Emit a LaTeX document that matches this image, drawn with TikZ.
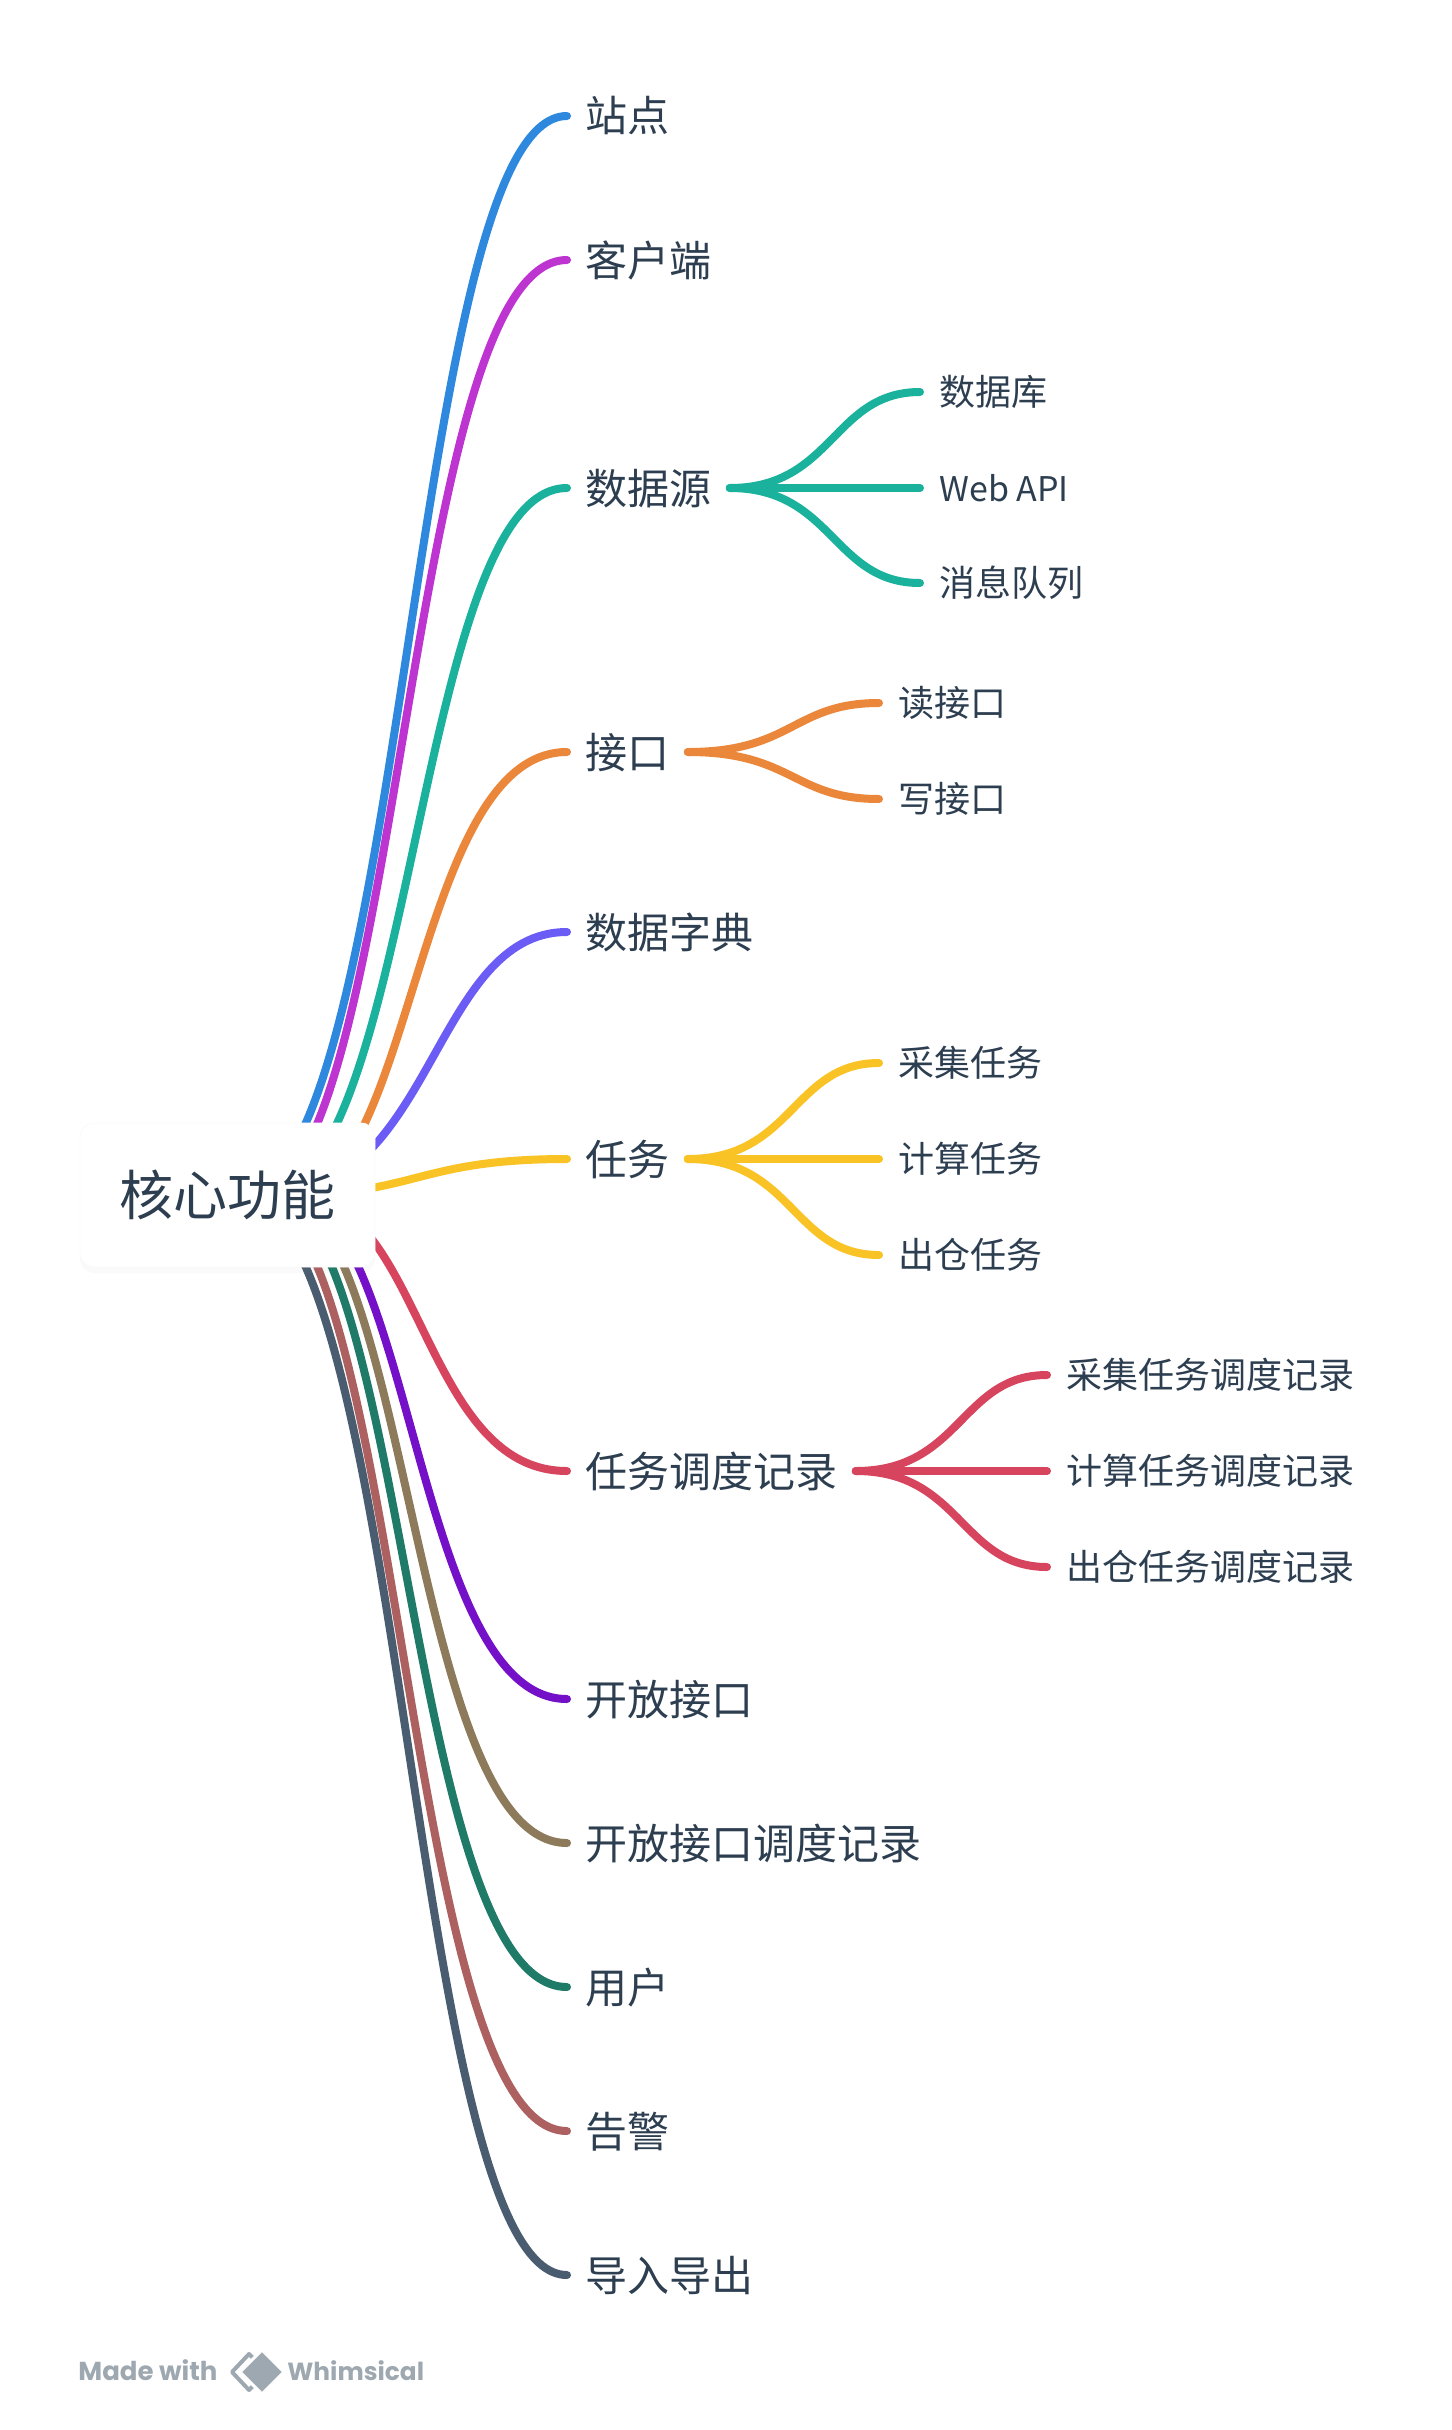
\documentclass[tikz,border=0pt]{standalone}
\usepackage{fontspec}
\setmainfont{Noto Sans CJK SC}
\newfontfamily\markfont{Poppins}
\usepackage{xcolor}
\usetikzlibrary{positioning,calc,backgrounds,shadows}
\definecolor{inkcolor}{HTML}{2C3E50}
\definecolor{markcolor}{HTML}{9EA8B1}
\definecolor{stationcolor}{HTML}{2E89DE}
\definecolor{clientcolor}{HTML}{BD34D1}
\definecolor{sourcecolor}{HTML}{1AB19D}
\definecolor{interfacecolor}{HTML}{EA873B}
\definecolor{dictionarycolor}{HTML}{6C5CF6}
\definecolor{taskcolor}{HTML}{F9C326}
\definecolor{schedulecolor}{HTML}{D6455D}
\definecolor{openapicolor}{HTML}{7510C9}
\definecolor{openlogcolor}{HTML}{8C7A5B}
\definecolor{usercolor}{HTML}{1F7A68}
\definecolor{alertcolor}{HTML}{AD6060}
\definecolor{transfercolor}{HTML}{4A5D70}
\tikzset{
  rootbox/.style={rectangle, rounded corners=7pt, fill=white, draw=black!2, minimum width=147.5pt, minimum height=72pt, inner sep=0pt, text=inkcolor, font=\fontsize{27pt}{31pt}\selectfont, text height=23.8pt, text depth=3.2pt, drop shadow={opacity=0.04, shadow xshift=0pt, shadow yshift=-3pt}},
  topic/.style={anchor=west, inner xsep=9pt, inner ysep=0pt, text=inkcolor, font=\fontsize{21pt}{25pt}\selectfont, text height=18.5pt, text depth=2.5pt},
  leaf/.style={anchor=west, inner xsep=9.5pt, inner ysep=0pt, text=inkcolor, font=\fontsize{18pt}{22pt}\selectfont, text height=15.8pt, text depth=2.2pt},
  spoke/.style={line width=4pt, line cap=round},
  markword/.style={anchor=base west, inner sep=0pt, text=markcolor, font=\markfont\bfseries\fontsize{13pt}{15pt}\selectfont}
}
\begin{document}
\begin{tikzpicture}[x=0.5pt, y=-0.5pt]
  \useasboundingbox (0,0) rectangle (1451,2430);
  \node[rootbox] (core) at (227.5,1195) {核心功能};
  \node[topic] (station) at (567,116) {站点};
  \node[topic] (client) at (567,260) {客户端};
  \node[topic] (source) at (567,488) {数据源};
  \node[topic] (interface) at (567,752) {接口};
  \node[topic] (dictionary) at (567,932) {数据字典};
  \node[topic] (task) at (567,1159) {任务};
  \node[topic] (schedule) at (567,1471) {任务调度记录};
  \node[topic] (openapi) at (567,1699) {开放接口};
  \node[topic] (openlog) at (567,1843) {开放接口调度记录};
  \node[topic] (user) at (567,1987) {用户};
  \node[topic] (alert) at (567,2131) {告警};
  \node[topic] (transfer) at (567,2275) {导入导出};
  \node[leaf] (database) at (920,392) {数据库};
  \node[leaf, font=\fontsize{17pt}{21pt}\selectfont] (webapi) at (920,488) {Web API};
  \node[leaf] (queue) at (920,583) {消息队列};
  \node[leaf] (reader) at (879,703) {读接口};
  \node[leaf] (writer) at (879,799) {写接口};
  \node[leaf] (collect) at (879,1063) {采集任务};
  \node[leaf] (compute) at (879,1159) {计算任务};
  \node[leaf] (outbound) at (879,1255) {出仓任务};
  \node[leaf] (collectlog) at (1047,1375) {采集任务调度记录};
  \node[leaf] (computelog) at (1047,1471) {计算任务调度记录};
  \node[leaf] (outboundlog) at (1047,1567) {出仓任务调度记录};
  \begin{scope}[on background layer]
    \draw[spoke, stationcolor] ($(core.center)+(8.5,0)$) .. controls (408,1195) and (408,116) .. (station.west);
    \draw[spoke, clientcolor] ($(core.center)+(24.5,0)$) .. controls (403,1195) and (403,260) .. (client.west);
    \draw[spoke, sourcecolor] ($(core.center)+(34.5,0)$) .. controls (415,1195) and (415,488) .. (source.west);
    \draw[spoke, interfacecolor] ($(core.center)+(61.5,0)$) .. controls (414,1195) and (414,752) .. (interface.west);
    \draw[spoke, dictionarycolor] ($(core.center)+(42.5,0)$) .. controls (433,1195) and (433,932) .. (dictionary.west);
    \draw[spoke, taskcolor] ($(core.center)+(57.5,0)$) .. controls (417,1195) and (417,1159) .. (task.west);
    \draw[spoke, schedulecolor] ($(core.center)+(68.5,0)$) .. controls (422,1195) and (422,1471) .. (schedule.west);
    \draw[spoke, openapicolor] ($(core.center)+(57.5,0)$) .. controls (413,1195) and (413,1699) .. (openapi.west);
    \draw[spoke, openlogcolor] ($(core.center)+(47.5,0)$) .. controls (410,1195) and (410,1843) .. (openlog.west);
    \draw[spoke, usercolor] ($(core.center)+(38.5,0)$) .. controls (407,1195) and (407,1987) .. (user.west);
    \draw[spoke, alertcolor] ($(core.center)+(24.5,0)$) .. controls (403,1195) and (403,2131) .. (alert.west);
    \draw[spoke, transfercolor] ($(core.center)+(8.5,0)$) .. controls (408,1195) and (408,2275) .. (transfer.west);
  \end{scope}
  \draw[spoke, sourcecolor] (source.east) .. controls (833,488) and (833,392) .. (database.west);
  \draw[spoke, sourcecolor] (source.east) -- (webapi.west);
  \draw[spoke, sourcecolor] (source.east) .. controls (833,488) and (833,583) .. (queue.west);
  \draw[spoke, interfacecolor] (interface.east) .. controls (793,752) and (793,703) .. (reader.west);
  \draw[spoke, interfacecolor] (interface.east) .. controls (793,752) and (793,799) .. (writer.west);
  \draw[spoke, taskcolor] (task.east) .. controls (793,1159) and (793,1063) .. (collect.west);
  \draw[spoke, taskcolor] (task.east) -- (compute.west);
  \draw[spoke, taskcolor] (task.east) .. controls (793,1159) and (793,1255) .. (outbound.west);
  \draw[spoke, schedulecolor] (schedule.east) .. controls (961,1471) and (961,1375) .. (collectlog.west);
  \draw[spoke, schedulecolor] (schedule.east) -- (computelog.west);
  \draw[spoke, schedulecolor] (schedule.east) .. controls (961,1471) and (961,1567) .. (outboundlog.west);
  \node[markword] (madewith) at (78,2380) {Made with};
  \node[markword, font=\markfont\bfseries\fontsize{12.4pt}{15pt}\selectfont] (whimsical) at (287,2380) {Whimsical};
  \draw[markcolor, line width=2pt, line join=round] (249,2354) -- (232,2372) -- (249,2390) -- (267,2372) -- cycle;
  \fill[markcolor, draw=white, line width=1.5pt] (262,2350) -- (240,2372) -- (262,2394) -- (284,2372) -- cycle;
\end{tikzpicture}
\end{document}
